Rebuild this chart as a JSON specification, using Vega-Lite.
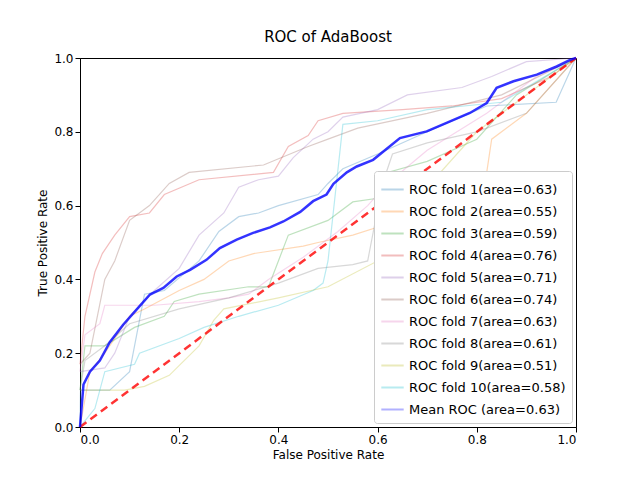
{
  "$schema": "https://vega.github.io/schema/vega-lite/v6.json",
  "autosize": "none",
  "width": 496,
  "height": 369,
  "padding": {"left": 80, "top": 58, "right": 64, "bottom": 53},
  "title": {"text": "ROC of AdaBoost", "fontSize": 15, "fontWeight": "normal", "font": "DejaVu Sans", "offset": 7},
  "config": {
    "font": "DejaVu Sans",
    "view": {"stroke": "black", "strokeWidth": 1},
    "axis": {"grid": false, "labelFontSize": 12, "titleFontSize": 12, "titleFontWeight": "normal", "domainColor": "black", "tickColor": "black", "labelColor": "black", "titleColor": "black", "format": ".1f", "tickCount": 5}
  },
  "datasets": {
    "folds": [
      {"s": "ROC fold 1(area=0.63)", "x": 0, "y": 0},
      {"s": "ROC fold 1(area=0.63)", "x": 0.001, "y": 0.1},
      {"s": "ROC fold 1(area=0.63)", "x": 0.06, "y": 0.1},
      {"s": "ROC fold 1(area=0.63)", "x": 0.1, "y": 0.15},
      {"s": "ROC fold 1(area=0.63)", "x": 0.13, "y": 0.36},
      {"s": "ROC fold 1(area=0.63)", "x": 0.17, "y": 0.37},
      {"s": "ROC fold 1(area=0.63)", "x": 0.24, "y": 0.45},
      {"s": "ROC fold 1(area=0.63)", "x": 0.28, "y": 0.53},
      {"s": "ROC fold 1(area=0.63)", "x": 0.32, "y": 0.57},
      {"s": "ROC fold 1(area=0.63)", "x": 0.36, "y": 0.58},
      {"s": "ROC fold 1(area=0.63)", "x": 0.4, "y": 0.6},
      {"s": "ROC fold 1(area=0.63)", "x": 0.48, "y": 0.63},
      {"s": "ROC fold 1(area=0.63)", "x": 0.5, "y": 0.66},
      {"s": "ROC fold 1(area=0.63)", "x": 0.53, "y": 0.7},
      {"s": "ROC fold 1(area=0.63)", "x": 0.6, "y": 0.74},
      {"s": "ROC fold 1(area=0.63)", "x": 0.7, "y": 0.8},
      {"s": "ROC fold 1(area=0.63)", "x": 0.82, "y": 0.87},
      {"s": "ROC fold 1(area=0.63)", "x": 0.96, "y": 0.88},
      {"s": "ROC fold 1(area=0.63)", "x": 1, "y": 1},
      {"s": "ROC fold 2(area=0.55)", "x": 0, "y": 0},
      {"s": "ROC fold 2(area=0.55)", "x": 0.02, "y": 0.15},
      {"s": "ROC fold 2(area=0.55)", "x": 0.05, "y": 0.2},
      {"s": "ROC fold 2(area=0.55)", "x": 0.1, "y": 0.3},
      {"s": "ROC fold 2(area=0.55)", "x": 0.13, "y": 0.32},
      {"s": "ROC fold 2(area=0.55)", "x": 0.2, "y": 0.37},
      {"s": "ROC fold 2(area=0.55)", "x": 0.25, "y": 0.4},
      {"s": "ROC fold 2(area=0.55)", "x": 0.3, "y": 0.45},
      {"s": "ROC fold 2(area=0.55)", "x": 0.35, "y": 0.47},
      {"s": "ROC fold 2(area=0.55)", "x": 0.45, "y": 0.49},
      {"s": "ROC fold 2(area=0.55)", "x": 0.48, "y": 0.5},
      {"s": "ROC fold 2(area=0.55)", "x": 0.55, "y": 0.52},
      {"s": "ROC fold 2(area=0.55)", "x": 0.62, "y": 0.55},
      {"s": "ROC fold 2(area=0.55)", "x": 0.7, "y": 0.57},
      {"s": "ROC fold 2(area=0.55)", "x": 0.75, "y": 0.59},
      {"s": "ROC fold 2(area=0.55)", "x": 0.81, "y": 0.6},
      {"s": "ROC fold 2(area=0.55)", "x": 0.83, "y": 0.78},
      {"s": "ROC fold 2(area=0.55)", "x": 0.9, "y": 0.85},
      {"s": "ROC fold 2(area=0.55)", "x": 1, "y": 1},
      {"s": "ROC fold 3(area=0.59)", "x": 0, "y": 0.1},
      {"s": "ROC fold 3(area=0.59)", "x": 0.01, "y": 0.22},
      {"s": "ROC fold 3(area=0.59)", "x": 0.05, "y": 0.22},
      {"s": "ROC fold 3(area=0.59)", "x": 0.11, "y": 0.27},
      {"s": "ROC fold 3(area=0.59)", "x": 0.17, "y": 0.3},
      {"s": "ROC fold 3(area=0.59)", "x": 0.19, "y": 0.34},
      {"s": "ROC fold 3(area=0.59)", "x": 0.24, "y": 0.36},
      {"s": "ROC fold 3(area=0.59)", "x": 0.34, "y": 0.38},
      {"s": "ROC fold 3(area=0.59)", "x": 0.38, "y": 0.38},
      {"s": "ROC fold 3(area=0.59)", "x": 0.4, "y": 0.45},
      {"s": "ROC fold 3(area=0.59)", "x": 0.42, "y": 0.52},
      {"s": "ROC fold 3(area=0.59)", "x": 0.5, "y": 0.56},
      {"s": "ROC fold 3(area=0.59)", "x": 0.55, "y": 0.61},
      {"s": "ROC fold 3(area=0.59)", "x": 0.6, "y": 0.62},
      {"s": "ROC fold 3(area=0.59)", "x": 0.62, "y": 0.69},
      {"s": "ROC fold 3(area=0.59)", "x": 0.7, "y": 0.72},
      {"s": "ROC fold 3(area=0.59)", "x": 0.8, "y": 0.78},
      {"s": "ROC fold 3(area=0.59)", "x": 0.88, "y": 0.9},
      {"s": "ROC fold 3(area=0.59)", "x": 1, "y": 1},
      {"s": "ROC fold 4(area=0.76)", "x": 0, "y": 0.17},
      {"s": "ROC fold 4(area=0.76)", "x": 0.01, "y": 0.3},
      {"s": "ROC fold 4(area=0.76)", "x": 0.03, "y": 0.42},
      {"s": "ROC fold 4(area=0.76)", "x": 0.045, "y": 0.47},
      {"s": "ROC fold 4(area=0.76)", "x": 0.07, "y": 0.52},
      {"s": "ROC fold 4(area=0.76)", "x": 0.1, "y": 0.57},
      {"s": "ROC fold 4(area=0.76)", "x": 0.14, "y": 0.58},
      {"s": "ROC fold 4(area=0.76)", "x": 0.17, "y": 0.63},
      {"s": "ROC fold 4(area=0.76)", "x": 0.24, "y": 0.67},
      {"s": "ROC fold 4(area=0.76)", "x": 0.39, "y": 0.69},
      {"s": "ROC fold 4(area=0.76)", "x": 0.42, "y": 0.76},
      {"s": "ROC fold 4(area=0.76)", "x": 0.46, "y": 0.79},
      {"s": "ROC fold 4(area=0.76)", "x": 0.48, "y": 0.83},
      {"s": "ROC fold 4(area=0.76)", "x": 0.53, "y": 0.85},
      {"s": "ROC fold 4(area=0.76)", "x": 0.65, "y": 0.86},
      {"s": "ROC fold 4(area=0.76)", "x": 0.75, "y": 0.87},
      {"s": "ROC fold 4(area=0.76)", "x": 0.85, "y": 0.89},
      {"s": "ROC fold 4(area=0.76)", "x": 0.95, "y": 0.95},
      {"s": "ROC fold 4(area=0.76)", "x": 1, "y": 1},
      {"s": "ROC fold 5(area=0.71)", "x": 0, "y": 0.15},
      {"s": "ROC fold 5(area=0.71)", "x": 0.05, "y": 0.16},
      {"s": "ROC fold 5(area=0.71)", "x": 0.07, "y": 0.2},
      {"s": "ROC fold 5(area=0.71)", "x": 0.1, "y": 0.3},
      {"s": "ROC fold 5(area=0.71)", "x": 0.15, "y": 0.37},
      {"s": "ROC fold 5(area=0.71)", "x": 0.2, "y": 0.43},
      {"s": "ROC fold 5(area=0.71)", "x": 0.24, "y": 0.52},
      {"s": "ROC fold 5(area=0.71)", "x": 0.29, "y": 0.58},
      {"s": "ROC fold 5(area=0.71)", "x": 0.32, "y": 0.65},
      {"s": "ROC fold 5(area=0.71)", "x": 0.36, "y": 0.67},
      {"s": "ROC fold 5(area=0.71)", "x": 0.4, "y": 0.68},
      {"s": "ROC fold 5(area=0.71)", "x": 0.43, "y": 0.73},
      {"s": "ROC fold 5(area=0.71)", "x": 0.47, "y": 0.78},
      {"s": "ROC fold 5(area=0.71)", "x": 0.5, "y": 0.8},
      {"s": "ROC fold 5(area=0.71)", "x": 0.53, "y": 0.84},
      {"s": "ROC fold 5(area=0.71)", "x": 0.6, "y": 0.86},
      {"s": "ROC fold 5(area=0.71)", "x": 0.66, "y": 0.9},
      {"s": "ROC fold 5(area=0.71)", "x": 0.77, "y": 0.92},
      {"s": "ROC fold 5(area=0.71)", "x": 0.83, "y": 0.95},
      {"s": "ROC fold 5(area=0.71)", "x": 0.9, "y": 0.99},
      {"s": "ROC fold 5(area=0.71)", "x": 1, "y": 1},
      {"s": "ROC fold 6(area=0.74)", "x": 0, "y": 0.17},
      {"s": "ROC fold 6(area=0.74)", "x": 0.02, "y": 0.2},
      {"s": "ROC fold 6(area=0.74)", "x": 0.05, "y": 0.4},
      {"s": "ROC fold 6(area=0.74)", "x": 0.07, "y": 0.45},
      {"s": "ROC fold 6(area=0.74)", "x": 0.1, "y": 0.56},
      {"s": "ROC fold 6(area=0.74)", "x": 0.14, "y": 0.6},
      {"s": "ROC fold 6(area=0.74)", "x": 0.18, "y": 0.66},
      {"s": "ROC fold 6(area=0.74)", "x": 0.22, "y": 0.69},
      {"s": "ROC fold 6(area=0.74)", "x": 0.37, "y": 0.71},
      {"s": "ROC fold 6(area=0.74)", "x": 0.46, "y": 0.76},
      {"s": "ROC fold 6(area=0.74)", "x": 0.5, "y": 0.78},
      {"s": "ROC fold 6(area=0.74)", "x": 0.56, "y": 0.81},
      {"s": "ROC fold 6(area=0.74)", "x": 0.7, "y": 0.85},
      {"s": "ROC fold 6(area=0.74)", "x": 0.85, "y": 0.9},
      {"s": "ROC fold 6(area=0.74)", "x": 1, "y": 1},
      {"s": "ROC fold 7(area=0.63)", "x": 0, "y": 0.15},
      {"s": "ROC fold 7(area=0.63)", "x": 0.01, "y": 0.25},
      {"s": "ROC fold 7(area=0.63)", "x": 0.04, "y": 0.28},
      {"s": "ROC fold 7(area=0.63)", "x": 0.05, "y": 0.33},
      {"s": "ROC fold 7(area=0.63)", "x": 0.15, "y": 0.33},
      {"s": "ROC fold 7(area=0.63)", "x": 0.24, "y": 0.34},
      {"s": "ROC fold 7(area=0.63)", "x": 0.3, "y": 0.35},
      {"s": "ROC fold 7(area=0.63)", "x": 0.34, "y": 0.36},
      {"s": "ROC fold 7(area=0.63)", "x": 0.38, "y": 0.4},
      {"s": "ROC fold 7(area=0.63)", "x": 0.45, "y": 0.46},
      {"s": "ROC fold 7(area=0.63)", "x": 0.52, "y": 0.53},
      {"s": "ROC fold 7(area=0.63)", "x": 0.58, "y": 0.6},
      {"s": "ROC fold 7(area=0.63)", "x": 0.62, "y": 0.66},
      {"s": "ROC fold 7(area=0.63)", "x": 0.7, "y": 0.75},
      {"s": "ROC fold 7(area=0.63)", "x": 0.82, "y": 0.85},
      {"s": "ROC fold 7(area=0.63)", "x": 0.92, "y": 0.95},
      {"s": "ROC fold 7(area=0.63)", "x": 1, "y": 1},
      {"s": "ROC fold 8(area=0.61)", "x": 0, "y": 0.1},
      {"s": "ROC fold 8(area=0.61)", "x": 0.01, "y": 0.18},
      {"s": "ROC fold 8(area=0.61)", "x": 0.05, "y": 0.22},
      {"s": "ROC fold 8(area=0.61)", "x": 0.1, "y": 0.28},
      {"s": "ROC fold 8(area=0.61)", "x": 0.2, "y": 0.32},
      {"s": "ROC fold 8(area=0.61)", "x": 0.3, "y": 0.35},
      {"s": "ROC fold 8(area=0.61)", "x": 0.4, "y": 0.39},
      {"s": "ROC fold 8(area=0.61)", "x": 0.48, "y": 0.43},
      {"s": "ROC fold 8(area=0.61)", "x": 0.55, "y": 0.44},
      {"s": "ROC fold 8(area=0.61)", "x": 0.58, "y": 0.45},
      {"s": "ROC fold 8(area=0.61)", "x": 0.61, "y": 0.66},
      {"s": "ROC fold 8(area=0.61)", "x": 0.63, "y": 0.74},
      {"s": "ROC fold 8(area=0.61)", "x": 0.7, "y": 0.77},
      {"s": "ROC fold 8(area=0.61)", "x": 0.8, "y": 0.8},
      {"s": "ROC fold 8(area=0.61)", "x": 0.9, "y": 0.85},
      {"s": "ROC fold 8(area=0.61)", "x": 1, "y": 1},
      {"s": "ROC fold 9(area=0.51)", "x": 0, "y": 0.1},
      {"s": "ROC fold 9(area=0.51)", "x": 0.09, "y": 0.1},
      {"s": "ROC fold 9(area=0.51)", "x": 0.13, "y": 0.11},
      {"s": "ROC fold 9(area=0.51)", "x": 0.18, "y": 0.14},
      {"s": "ROC fold 9(area=0.51)", "x": 0.24, "y": 0.22},
      {"s": "ROC fold 9(area=0.51)", "x": 0.27, "y": 0.29},
      {"s": "ROC fold 9(area=0.51)", "x": 0.29, "y": 0.32},
      {"s": "ROC fold 9(area=0.51)", "x": 0.4, "y": 0.35},
      {"s": "ROC fold 9(area=0.51)", "x": 0.5, "y": 0.38},
      {"s": "ROC fold 9(area=0.51)", "x": 0.6, "y": 0.45},
      {"s": "ROC fold 9(area=0.51)", "x": 0.62, "y": 0.6},
      {"s": "ROC fold 9(area=0.51)", "x": 0.7, "y": 0.65},
      {"s": "ROC fold 9(area=0.51)", "x": 0.8, "y": 0.8},
      {"s": "ROC fold 9(area=0.51)", "x": 0.9, "y": 0.9},
      {"s": "ROC fold 9(area=0.51)", "x": 1, "y": 1},
      {"s": "ROC fold 10(area=0.58)", "x": 0, "y": 0},
      {"s": "ROC fold 10(area=0.58)", "x": 0.03, "y": 0.05},
      {"s": "ROC fold 10(area=0.58)", "x": 0.05, "y": 0.15},
      {"s": "ROC fold 10(area=0.58)", "x": 0.11, "y": 0.17},
      {"s": "ROC fold 10(area=0.58)", "x": 0.12, "y": 0.2},
      {"s": "ROC fold 10(area=0.58)", "x": 0.2, "y": 0.24},
      {"s": "ROC fold 10(area=0.58)", "x": 0.25, "y": 0.27},
      {"s": "ROC fold 10(area=0.58)", "x": 0.32, "y": 0.3},
      {"s": "ROC fold 10(area=0.58)", "x": 0.4, "y": 0.33},
      {"s": "ROC fold 10(area=0.58)", "x": 0.47, "y": 0.37},
      {"s": "ROC fold 10(area=0.58)", "x": 0.49, "y": 0.39},
      {"s": "ROC fold 10(area=0.58)", "x": 0.5, "y": 0.45},
      {"s": "ROC fold 10(area=0.58)", "x": 0.53, "y": 0.82},
      {"s": "ROC fold 10(area=0.58)", "x": 0.6, "y": 0.83},
      {"s": "ROC fold 10(area=0.58)", "x": 0.7, "y": 0.86},
      {"s": "ROC fold 10(area=0.58)", "x": 0.85, "y": 0.88},
      {"s": "ROC fold 10(area=0.58)", "x": 1, "y": 1}
    ],
    "mean": [
      {"s": "Mean ROC (area=0.63)", "x": 0, "y": 0},
      {"s": "Mean ROC (area=0.63)", "x": 0.007, "y": 0.115},
      {"s": "Mean ROC (area=0.63)", "x": 0.02, "y": 0.15},
      {"s": "Mean ROC (area=0.63)", "x": 0.04, "y": 0.18},
      {"s": "Mean ROC (area=0.63)", "x": 0.06, "y": 0.23},
      {"s": "Mean ROC (area=0.63)", "x": 0.087, "y": 0.277},
      {"s": "Mean ROC (area=0.63)", "x": 0.114, "y": 0.318},
      {"s": "Mean ROC (area=0.63)", "x": 0.141, "y": 0.359},
      {"s": "Mean ROC (area=0.63)", "x": 0.168, "y": 0.377},
      {"s": "Mean ROC (area=0.63)", "x": 0.195, "y": 0.408},
      {"s": "Mean ROC (area=0.63)", "x": 0.222, "y": 0.426},
      {"s": "Mean ROC (area=0.63)", "x": 0.255, "y": 0.453},
      {"s": "Mean ROC (area=0.63)", "x": 0.282, "y": 0.485},
      {"s": "Mean ROC (area=0.63)", "x": 0.316, "y": 0.508},
      {"s": "Mean ROC (area=0.63)", "x": 0.349, "y": 0.526},
      {"s": "Mean ROC (area=0.63)", "x": 0.383, "y": 0.541},
      {"s": "Mean ROC (area=0.63)", "x": 0.41, "y": 0.557},
      {"s": "Mean ROC (area=0.63)", "x": 0.444, "y": 0.583},
      {"s": "Mean ROC (area=0.63)", "x": 0.47, "y": 0.612},
      {"s": "Mean ROC (area=0.63)", "x": 0.497, "y": 0.63},
      {"s": "Mean ROC (area=0.63)", "x": 0.511, "y": 0.659},
      {"s": "Mean ROC (area=0.63)", "x": 0.538, "y": 0.69},
      {"s": "Mean ROC (area=0.63)", "x": 0.558, "y": 0.706},
      {"s": "Mean ROC (area=0.63)", "x": 0.591, "y": 0.724},
      {"s": "Mean ROC (area=0.63)", "x": 0.645, "y": 0.783},
      {"s": "Mean ROC (area=0.63)", "x": 0.699, "y": 0.801},
      {"s": "Mean ROC (area=0.63)", "x": 0.739, "y": 0.824},
      {"s": "Mean ROC (area=0.63)", "x": 0.786, "y": 0.851},
      {"s": "Mean ROC (area=0.63)", "x": 0.82, "y": 0.878},
      {"s": "Mean ROC (area=0.63)", "x": 0.84, "y": 0.919},
      {"s": "Mean ROC (area=0.63)", "x": 0.874, "y": 0.937},
      {"s": "Mean ROC (area=0.63)", "x": 0.921, "y": 0.955},
      {"s": "Mean ROC (area=0.63)", "x": 0.961, "y": 0.977},
      {"s": "Mean ROC (area=0.63)", "x": 0.988, "y": 0.995},
      {"s": "Mean ROC (area=0.63)", "x": 1, "y": 1}
    ],
    "chance": [
      {"x": 0, "y": 0},
      {"x": 1, "y": 1}
    ]
  },
  "layer": [
    {
      "data": {"name": "folds"},
      "mark": {"type": "line", "strokeWidth": 1.2, "opacity": 0.3},
      "encoding": {
        "x": {"field": "x", "type": "quantitative", "title": "False Positive Rate", "scale": {"domain": [0, 1], "nice": false}},
        "y": {"field": "y", "type": "quantitative", "title": "True Positive Rate", "scale": {"domain": [0, 1], "nice": false}},
        "color": {"field": "s", "type": "nominal", "title": null, "sort": null}
      }
    },
    {
      "data": {"name": "chance"},
      "mark": {"type": "line", "color": "#ff0000", "opacity": 0.8, "strokeWidth": 2.5, "strokeDash": [8, 5]},
      "encoding": {
        "x": {"field": "x", "type": "quantitative"},
        "y": {"field": "y", "type": "quantitative"}
      }
    },
    {
      "data": {"name": "mean"},
      "mark": {"type": "line", "strokeWidth": 2.5, "opacity": 0.8},
      "encoding": {
        "x": {"field": "x", "type": "quantitative"},
        "y": {"field": "y", "type": "quantitative"},
        "color": {"field": "s", "type": "nominal"}
      }
    }
  ],
  "resolve": {"scale": {"color": "shared"}},
  "encoding": {
    "color": {
      "scale": {
        "domain": ["ROC fold 1(area=0.63)", "ROC fold 2(area=0.55)", "ROC fold 3(area=0.59)", "ROC fold 4(area=0.76)", "ROC fold 5(area=0.71)", "ROC fold 6(area=0.74)", "ROC fold 7(area=0.63)", "ROC fold 8(area=0.61)", "ROC fold 9(area=0.51)", "ROC fold 10(area=0.58)", "Mean ROC (area=0.63)"],
        "range": ["#1f77b4", "#ff7f0e", "#2ca02c", "#d62728", "#9467bd", "#8c564b", "#e377c2", "#7f7f7f", "#bcbd22", "#17becf", "#0000ff"]
      },
      "legend": {
        "orient": "bottom-right",
        "symbolType": "stroke",
        "symbolSize": 500,
        "symbolStrokeWidth": 2,
        "labelFontSize": 13,
        "labelColor": "black",
        "rowPadding": 2,
        "padding": 6,
        "offset": 4,
        "fillColor": "white",
        "strokeColor": "#cccccc",
        "cornerRadius": 3
      }
    }
  }
}
